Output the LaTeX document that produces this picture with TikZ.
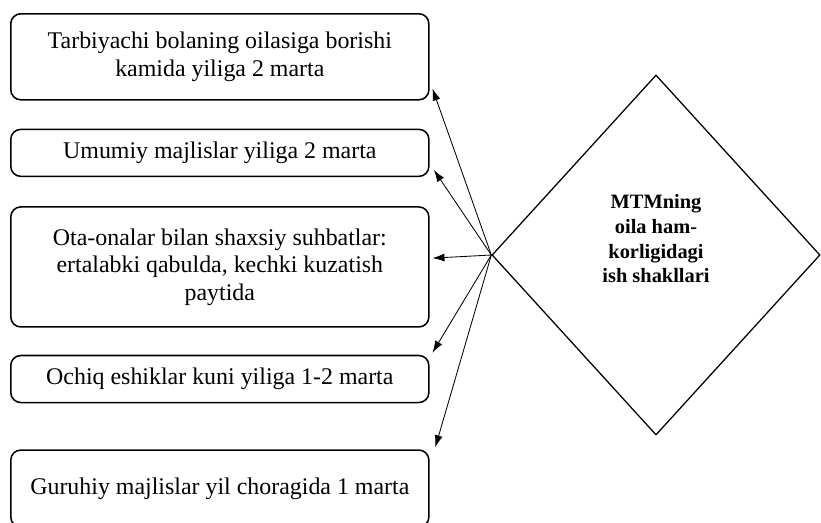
\documentclass[tikz,border=0pt]{standalone}
\usepackage{fontspec}
\setmainfont{Liberation Serif}
\usetikzlibrary{positioning,shapes.geometric,arrows.meta}

\begin{document}
\begin{tikzpicture}[x=0.025cm, y=-0.025cm, >={Latex[length=3mm,width=2mm]},
  box/.style={rectangle, draw, line width=1.1pt, rounded corners=0.25cm, minimum width=10.45cm,
    align=center, font=\fontsize{17}{19.5}\selectfont},
  romb/.style={diamond, draw, line width=0.9pt, minimum width=8.2cm, minimum height=9cm, inner sep=0pt,
    align=center, font=\fontsize{14.5}{17.5}\selectfont\bfseries},
  link/.style={->, line width=0.6pt}]

  \useasboundingbox (0,0) rectangle (821,522);

  % Left column
  \node[box, minimum height=2.15cm, anchor=north west] (tarb) at (10,13) {Tarbiyachi bolaning oilasiga borishi\\kamida yiliga 2 marta};
  \node[box, minimum height=1.175cm, below=0.7cm of tarb] (umum) {Umumiy majlislar yiliga 2 marta};
  \node[box, minimum height=3cm, below=0.725cm of umum] (suhb) {Ota-onalar bilan shaxsiy suhbatlar:\\ertalabki qabulda, kechki kuzatish\\paytida};
  \node[box, minimum height=1.175cm, below=0.675cm of suhb] (ochiq) {Ochiq eshiklar kuni yiliga 1-2 marta};
  \node[box, minimum height=1.925cm, below=1.15cm of ochiq] (guruh) {Guruhiy majlislar yil choragida 1 marta};

  % Diamond
  \node[romb] (mtm) at (656,255) {MTMning\\oila ham-\\korligidagi\\ish shakllari\\[0.2cm]};

  % Arrows from the diamond
  \draw[link] (mtm.west) -- ([xshift=2pt, yshift=0.3cm]tarb.south east);
  \draw[link] (mtm.west) -- ([xshift=3pt, yshift=0.18cm]umum.south east);
  \draw[link] (mtm.west) -- ([xshift=2pt, yshift=0.22cm]suhb.east);
  \draw[link] (mtm.west) -- ([xshift=2pt, yshift=0.05cm]ochiq.north east);
  \draw[link] (mtm.west) -- ([xshift=4pt, yshift=0.05cm]guruh.north east);
\end{tikzpicture}
\end{document}
